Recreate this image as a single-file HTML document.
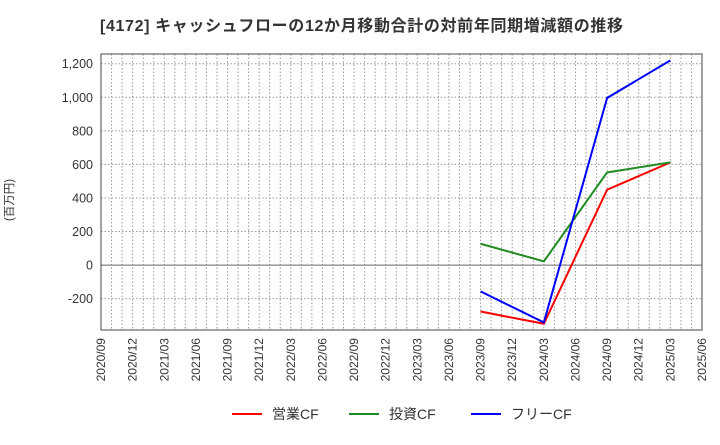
<!DOCTYPE html>
<html><head><meta charset="utf-8"><style>
body{margin:0;background:#fff;width:720px;height:440px;overflow:hidden;font-family:"Liberation Sans","Noto Sans CJK JP",sans-serif}
</style></head><body>
<svg id="c" width="720" height="440" xmlns="http://www.w3.org/2000/svg">
<text x="100" y="31" font-size="16" font-weight="bold" fill="#333" textLength="523" lengthAdjust="spacing" font-family="Liberation Sans,Noto Sans CJK JP,sans-serif">[4172]  キャッシュフローの12か月移動合計の対前年同期増減額の推移</text>
<text x="13" y="200" font-size="11.5" fill="#333" transform="rotate(-90 13 200)" text-anchor="middle" font-family="Liberation Sans,Noto Sans CJK JP,sans-serif">(百万円)</text>
<g id="grid"></g><g id="axes"></g><g id="series"></g>
<g font-size="14" fill="#333" font-family="Liberation Sans,Noto Sans CJK JP,sans-serif">
<line x1="232" y1="414" x2="262" y2="414" stroke="#ff0000" stroke-width="2"/><text x="272" y="419">営業CF</text>
<line x1="349" y1="414" x2="379" y2="414" stroke="#228b22" stroke-width="2"/><text x="389" y="419">投資CF</text>
<line x1="471" y1="414" x2="501" y2="414" stroke="#0000ff" stroke-width="2"/><text x="511" y="419">フリーCF</text>
</g>
</svg>
<script>
const categories=["2020/09","2020/12","2021/03","2021/06","2021/09","2021/12","2022/03","2022/06","2022/09","2022/12","2023/03","2023/06","2023/09","2023/12","2024/03","2024/06","2024/09","2024/12","2025/03","2025/06"];
const yTicks=[-200,0,200,400,600,800,1000,1200];
const dataIdx=[12,14,16,18];
const operatingCF=[-277,-350,449,612];
const investingCF=[127,22,552,612];
const freeCF=[-157,-342,996,1220];
const L=101,R=702,T=54,B=330,yMin=-387,yMax=1258;
const ns="http://www.w3.org/2000/svg";
const xs=i=>L+i*(R-L)/(categories.length-1);
const ys=v=>B-(v-yMin)/(yMax-yMin)*(B-T);
function mk(t,a,p){const e=document.createElementNS(ns,t);for(const k in a)e.setAttribute(k,a[k]);p.appendChild(e);return e;}
const grid=document.getElementById('grid'),axes=document.getElementById('axes'),ser=document.getElementById('series');
for(let m=1;m<(categories.length-1)*3;m++){const x=L+m*(R-L)/((categories.length-1)*3);
const g=mk('line',{x1:x,x2:x,y1:T,y2:B,stroke:'#999','stroke-dasharray':'1.5,2','stroke-width':1},grid);

}
yTicks.forEach(v=>{const y=ys(v);
const g=mk('line',{x1:L,x2:R,y1:y,y2:y,stroke:v===0?'#666':'#999','stroke-dasharray':v===0?'':'1.5,2','stroke-width':1},grid);


const t=mk('text',{x:L-8,y:y+4.5,'text-anchor':'end','font-size':12.5,fill:'#333'},axes);t.textContent=v.toLocaleString('en-US');

});
const fr=mk('rect',{x:L,y:T,width:R-L,height:B-T,fill:'none',stroke:'#444','stroke-width':1},axes);


categories.forEach((c,i)=>{const x=xs(i)+4,y=338;
const t=mk('text',{x:x,y:y,'text-anchor':'end','font-size':12,fill:'#333',transform:`rotate(-90 ${x} ${y})`},axes);t.textContent=c;

});
[[operatingCF,'#ff0000','operating-cf-line'],[investingCF,'#228b22','investing-cf-line'],[freeCF,'#0000ff','free-cf-line']].forEach(([d,col,n])=>{
const p=mk('polyline',{points:d.map((v,i)=>xs(dataIdx[i])+','+ys(v)).join(' '),fill:'none',stroke:col,'stroke-width':2},ser);

});
</script>
</body></html>
